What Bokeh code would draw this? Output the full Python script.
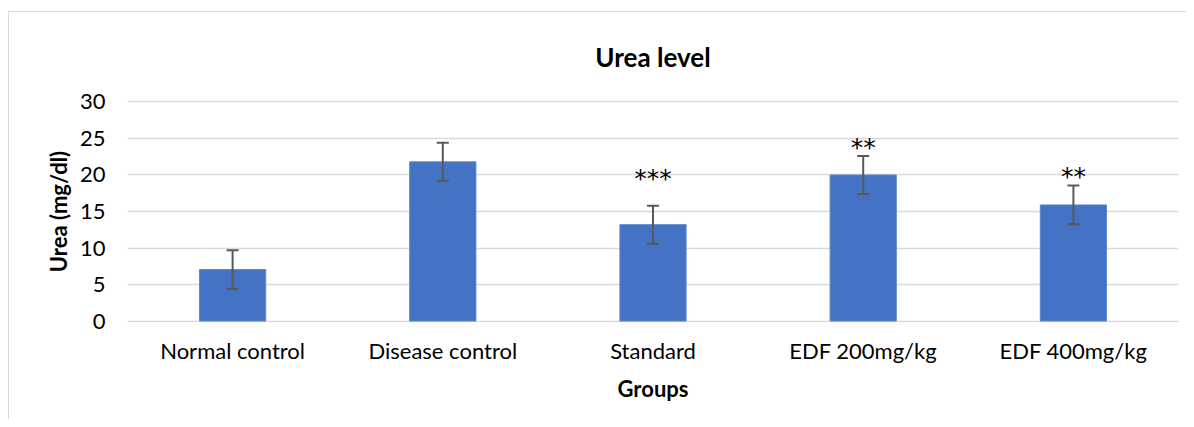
from bokeh.plotting import figure
from bokeh.models import ColumnDataSource, FactorRange, Whisker, TeeHead, FixedTicker
from bokeh.core.properties import value
from bokeh.embed import file_html
from bokeh.resources import INLINE

groups = ["Normal control", "Disease control", "Standard", "EDF 200mg/kg", "EDF 400mg/kg"]
urea = [7.05, 21.8, 13.2, 20.0, 15.9]
sem = [2.65, 2.6, 2.6, 2.6, 2.65]
stars = ["", "", "***", "**", "**"]
y_ticks = [0, 5, 10, 15, 20, 25, 30]

FONT = "Lato"
GRID = "#d9d9d9"

p = figure(
    x_range=FactorRange(*groups, range_padding=0),
    y_range=(-0.2, 30.2),
    width=1178, height=408,
    output_backend="svg", toolbar_location=None,
    min_border_left=118, min_border_right=9, min_border_top=88, min_border_bottom=98,
    margin=(11, 0, 0, 8),
    styles={"border-top": "1px solid #d9d9d9", "border-left": "1px solid #d9d9d9"},
)
p.outline_line_color = None
p.background_fill_color = "white"
p.border_fill_color = "white"

p.title.text = "Urea level"
p.title.align = "center"
p.title.vertical_align = "top"
p.title.text_font = FONT
p.title.text_font_size = "26px"
p.title.text_font_style = "bold"
p.title.text_color = "#000000"
p.title.standoff = 52

lower = [m - s for m, s in zip(urea, sem)]
upper = [m + s for m, s in zip(urea, sem)]
src = ColumnDataSource(dict(x=groups, top=urea, lower=lower, upper=upper,
                            stars=stars, star_off=[0, 0, -27, -9, -9]))

p.vbar(x="x", top="top", bottom=0, width=0.315, source=src,
       fill_color="#4472C4", line_color="#5b86d0", line_width=1)

w = Whisker(base="x", lower="lower", upper="upper", source=src, level="overlay",
            line_color="#595959", line_width=2,
            upper_head=TeeHead(size=12, line_color="#595959", line_width=2),
            lower_head=TeeHead(size=12, line_color="#595959", line_width=2))
p.add_layout(w)

p.text(x="x", y="upper", text="stars", source=src, y_offset="star_off",
       text_align="center", text_baseline="alphabetic",
       text_font=value("DejaVu Sans"), text_font_size="25px", text_color="#000000")

# axes
p.yaxis.ticker = FixedTicker(ticks=y_ticks)
p.ygrid.ticker = FixedTicker(ticks=y_ticks)
p.ygrid.grid_line_color = GRID
p.ygrid.grid_line_width = 1.5
p.xgrid.grid_line_color = None
for ax in (p.xaxis[0], p.yaxis[0]):
    ax.axis_line_color = None
    ax.major_tick_line_color = None
    ax.minor_tick_line_color = None
    ax.major_tick_out = 0
    ax.major_tick_in = 0
    ax.major_label_text_font = FONT
    ax.major_label_text_font_size = "22px"
    ax.major_label_text_color = "#000000"
    ax.axis_label_text_font = FONT
    ax.axis_label_text_font_size = "22px"
    ax.axis_label_text_font_style = "bold"
    ax.axis_label_text_color = "#000000"

p.yaxis.major_label_standoff = 22
p.yaxis.axis_label = "Urea (mg/dl)"
p.yaxis.axis_label_standoff = 5
p.xaxis.major_label_standoff = 14
p.xaxis.axis_label = "Groups"
p.xaxis.axis_label_standoff = 8

open("out.html", "w").write(file_html(p, INLINE))
